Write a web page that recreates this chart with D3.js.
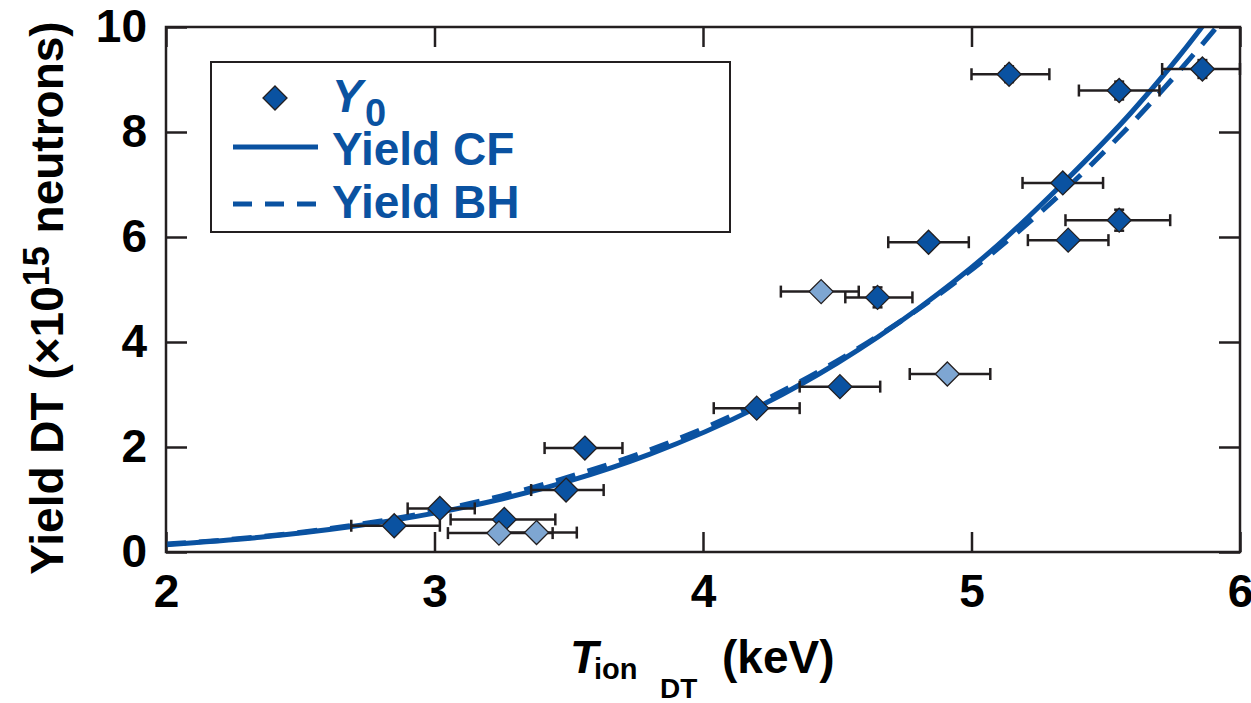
<!DOCTYPE html>
<html>
<head>
<meta charset="utf-8">
<script src="https://cdn.jsdelivr.net/npm/d3@7"></script>
<style>
  html, body { margin: 0; padding: 0; background: #fff; }
  svg { display: block; }
  text { font-family: "Liberation Sans", Arial, Helvetica, sans-serif; font-weight: bold; }
</style>
</head>
<body>
<svg id="chart" width="1251" height="703"></svg>
<script>
// ---- data ----
const xTicks = [2, 3, 4, 5, 6];
const yTicks = [0, 2, 4, 6, 8, 10];

// measured points: T (keV), Yield, x-error low, x-error high, y-error, light flag
const ptT    = [2.85, 3.02, 3.26, 3.24, 3.38, 3.49, 3.56, 4.20, 4.51, 4.91, 4.44, 4.65, 4.84, 5.14, 5.55, 5.86, 5.34, 5.55, 5.36];
const ptY    = [0.50, 0.83, 0.62, 0.36, 0.37, 1.18, 1.98, 2.74, 3.15, 3.39, 4.96, 4.85, 5.90, 9.10, 8.79, 9.20, 7.03, 6.32, 5.94];
const ptXlo  = [2.69, 2.90, 3.06, 3.05, 3.23, 3.36, 3.41, 4.04, 4.36, 4.77, 4.29, 4.53, 4.69, 5.00, 5.40, 5.71, 5.19, 5.35, 5.21];
const ptXhi  = [3.02, 3.15, 3.45, 3.44, 3.53, 3.63, 3.70, 4.36, 4.66, 5.07, 4.58, 4.78, 4.99, 5.29, 5.70, 6.00, 5.49, 5.74, 5.51];
const ptYerr = [0.05, 0.05, 0.05, 0.05, 0.05, 0.05, 0.05, 0.05, 0.05, 0.05, 0.10, 0.19, 0.12, 0.15, 0.17, 0.17, 0.08, 0.20, 0.08];
const ptLight= [0, 0, 0, 1, 1, 0, 0, 0, 0, 1, 1, 0, 0, 0, 0, 0, 0, 0, 0];

// fit curves
const cfT = [2.0, 2.35, 2.685, 3.0, 3.25, 3.5, 3.8, 4.2, 4.5, 4.8, 5.07, 5.34, 5.6, 5.88, 5.95];
const cfY = [0.14, 0.28, 0.48, 0.74, 1.01, 1.35, 1.86, 2.75, 3.60, 4.63, 5.72, 7.02, 8.40, 10.15, 10.65];
const bhT = [2.0, 2.35, 2.685, 3.0, 3.25, 3.5, 3.8, 4.2, 4.5, 4.8, 5.07, 5.34, 5.6, 5.92, 5.97];
const bhY = [0.15, 0.29, 0.50, 0.78, 1.07, 1.43, 1.94, 2.82, 3.64, 4.62, 5.66, 6.86, 8.18, 10.04, 10.35];

const legendLabels = ["Y", "Yield CF", "Yield BH"];

// ---- layout ----
const BLUE = "#0a52a1", LIGHT = "#7ea6d2", INK = "#231f20";
const L = 166, R = 1240, T = 27, B = 552;
const svg = d3.select("#chart");
const x = d3.scaleLinear().domain([2, 6]).range([L, R]);
const y = d3.scaleLinear().domain([0, 10]).range([B, T]);

svg.append("defs").append("clipPath").attr("id", "plotclip")
  .append("rect").attr("x", L).attr("y", T).attr("width", R - L).attr("height", B - T);

// axes
function styleAxis(g) {
  g.select(".domain").remove();
  g.selectAll(".tick line").attr("stroke", INK).attr("stroke-width", 2.5);
  g.selectAll(".tick text").attr("fill", "#000").style("font-size", "46px")
    .style("font-family", '"Liberation Sans", Arial, sans-serif').style("font-weight", "bold");
}
svg.append("g").attr("transform", `translate(0,${B})`)
  .call(d3.axisBottom(x).tickValues(xTicks).tickFormat(d3.format("d")).tickSizeInner(-20).tickSizeOuter(0).tickPadding(22))
  .call(styleAxis);
svg.append("g").attr("transform", `translate(0,${T})`)
  .call(d3.axisTop(x).tickValues(xTicks).tickFormat("").tickSizeInner(-20).tickSizeOuter(0))
  .call(styleAxis);
svg.append("g").attr("transform", `translate(${L},0)`)
  .call(d3.axisLeft(y).tickValues(yTicks).tickFormat(d3.format("d")).tickSizeInner(-21).tickSizeOuter(0).tickPadding(19))
  .call(styleAxis);
svg.append("g").attr("transform", `translate(${R},0)`)
  .call(d3.axisRight(y).tickValues(yTicks).tickFormat("").tickSizeInner(-21).tickSizeOuter(0))
  .call(styleAxis);

// curves
const line = d3.line().x(d => x(d[0])).y(d => y(d[1])).curve(d3.curveMonotoneX);
const plot = svg.append("g").attr("clip-path", "url(#plotclip)");
plot.append("path").datum(cfT.map((t, i) => [t, cfY[i]]))
  .attr("d", line).attr("fill", "none").attr("stroke", BLUE).attr("stroke-width", 5);
plot.append("path").datum(bhT.map((t, i) => [t, bhY[i]]))
  .attr("d", line).attr("fill", "none").attr("stroke", BLUE).attr("stroke-width", 5)
  .attr("stroke-dasharray", "20,13");

// error bars
const pts = ptT.map((t, i) => ({t, v: ptY[i], lo: ptXlo[i], hi: ptXhi[i], ye: ptYerr[i], light: ptLight[i]}));
const eb = svg.append("g").attr("stroke", INK).attr("stroke-width", 2.5).attr("fill", "none");
pts.forEach(p => {
  const cy = y(p.v);
  eb.append("line").attr("x1", x(p.lo)).attr("x2", x(p.hi)).attr("y1", cy).attr("y2", cy);
  eb.append("line").attr("x1", x(p.lo)).attr("x2", x(p.lo)).attr("y1", cy - 6).attr("y2", cy + 6);
  eb.append("line").attr("x1", x(p.hi)).attr("x2", x(p.hi)).attr("y1", cy - 6).attr("y2", cy + 6);
  eb.append("line").attr("x1", x(p.t)).attr("x2", x(p.t)).attr("y1", y(p.v + p.ye)).attr("y2", y(p.v - p.ye));
  eb.append("line").attr("x1", x(p.t) - 5).attr("x2", x(p.t) + 5).attr("y1", y(p.v + p.ye)).attr("y2", y(p.v + p.ye));
  eb.append("line").attr("x1", x(p.t) - 5).attr("x2", x(p.t) + 5).attr("y1", y(p.v - p.ye)).attr("y2", y(p.v - p.ye));
});

// diamonds
const diamond = r => `M0,${-r}L${r},0L0,${r}L${-r},0Z`;
svg.append("g").selectAll("path").data(pts).join("path")
  .attr("d", d => diamond(12))
  .attr("transform", d => `translate(${x(d.t)},${y(d.v)})`)
  .attr("fill", d => d.light ? LIGHT : BLUE)
  .attr("stroke", INK).attr("stroke-width", 1.3);

// frame
svg.append("rect").attr("x", L).attr("y", T).attr("width", R - L).attr("height", B - T)
  .attr("fill", "none").attr("stroke", INK).attr("stroke-width", 2.5);

// legend
const lg = svg.append("g");
lg.append("rect").attr("x", 211).attr("y", 62).attr("width", 519).attr("height", 170)
  .attr("fill", "#fff").attr("stroke", INK).attr("stroke-width", 2);
lg.append("path").attr("d", diamond(12)).attr("transform", "translate(275,98)")
  .attr("fill", BLUE).attr("stroke", INK).attr("stroke-width", 1.3);
const t0 = lg.append("text").attr("x", 332).attr("y", 112).attr("fill", BLUE).style("font-size", "46px");
t0.append("tspan").text(legendLabels[0]).style("font-style", "italic");
t0.append("tspan").attr("x", 365).attr("y", 126).text("0").style("font-size", "38px");
lg.append("line").attr("x1", 233).attr("x2", 318).attr("y1", 147).attr("y2", 147)
  .attr("stroke", BLUE).attr("stroke-width", 5);
lg.append("text").attr("x", 332).attr("y", 165).attr("fill", BLUE).style("font-size", "46px").text(legendLabels[1]);
lg.append("line").attr("x1", 233).attr("x2", 318).attr("y1", 204).attr("y2", 204)
  .attr("stroke", BLUE).attr("stroke-width", 5).attr("stroke-dasharray", "19,13");
lg.append("text").attr("x", 332).attr("y", 218).attr("fill", BLUE).style("font-size", "46px").text(legendLabels[2]);

// x-axis title
const xt = svg.append("text").attr("fill", "#000");
xt.append("tspan").attr("x", 570).attr("y", 673).style("font-size", "46px").style("font-style", "italic").text("T");
xt.append("tspan").attr("x", 594).attr("y", 679).style("font-size", "29px").text("ion");
xt.append("tspan").attr("x", 660).attr("y", 698).style("font-size", "28px").text("DT");
xt.append("tspan").attr("x", 722).attr("y", 673).style("font-size", "46px").text("(keV)");

// y-axis title
const yt = svg.append("text").attr("fill", "#000").attr("text-anchor", "middle")
  .attr("transform", "translate(63,298) rotate(-90)").style("font-size", "46px");
yt.append("tspan").text("Yield DT (\u00d710");
yt.append("tspan").attr("dy", -14).style("font-size", "36px").text("15");
yt.append("tspan").attr("dy", 14).text(" neutrons)");
</script>
</body>
</html>
